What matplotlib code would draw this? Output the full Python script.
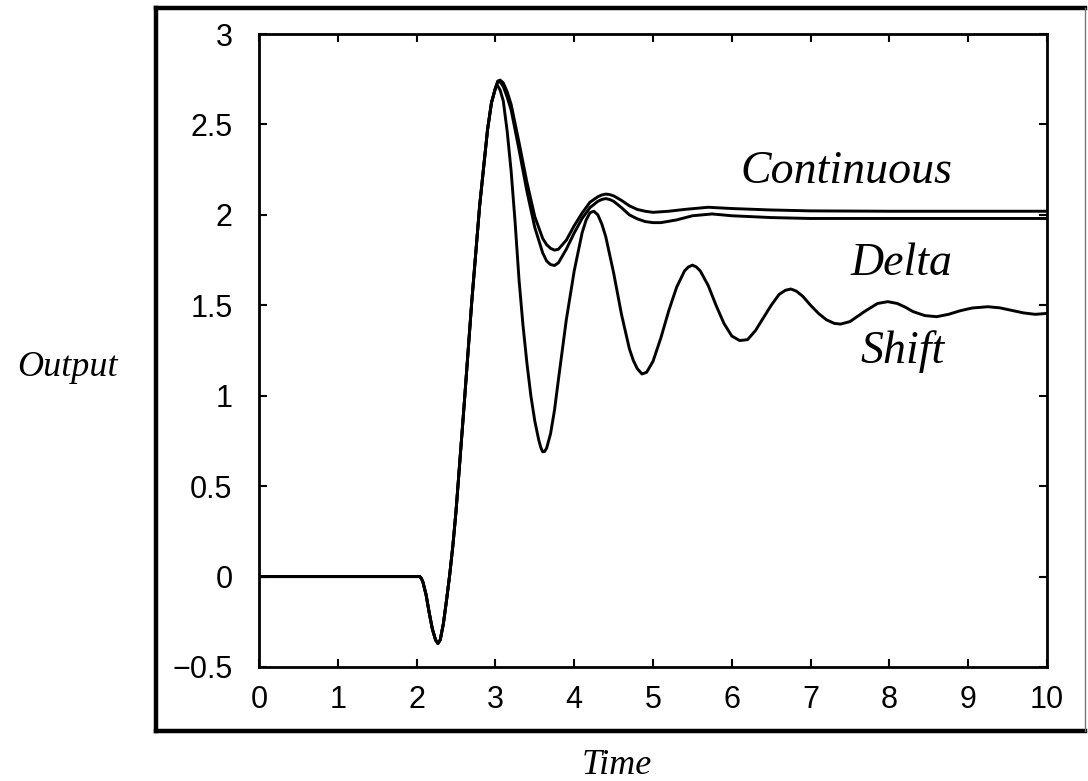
import matplotlib
matplotlib.use("Agg")
import matplotlib.pyplot as plt
from matplotlib.lines import Line2D
import warnings
warnings.filterwarnings("ignore")

# ---------------- data ----------------
common_t = [0.0, 2.00, 2.04, 2.06, 2.08, 2.12, 2.16, 2.20, 2.24, 2.27, 2.30, 2.34, 2.38,
            2.42, 2.46, 2.50, 2.60, 2.70, 2.80, 2.90, 2.95, 3.00]
common_v = [0.0, 0.0, 0.0, -0.01, -0.03, -0.10, -0.20, -0.29, -0.35, -0.37, -0.35, -0.26, -0.13,
            0.01, 0.17, 0.36, 0.93, 1.52, 2.05, 2.47, 2.62, 2.70]

cont_t = [3.03, 3.06, 3.10, 3.15, 3.20, 3.30, 3.40, 3.50, 3.60, 3.65, 3.70, 3.75, 3.80,
          3.90, 4.00, 4.10, 4.20, 4.30, 4.35, 4.40, 4.45, 4.50, 4.60, 4.70, 4.80, 4.90,
          5.00, 5.20, 5.40, 5.70, 6.00, 6.50, 7.00, 8.00, 9.00, 10.00]
cont_v = [2.74, 2.745, 2.73, 2.68, 2.61, 2.40, 2.18, 1.99, 1.87, 1.835, 1.815, 1.805, 1.81,
          1.86, 1.94, 2.01, 2.07, 2.10, 2.11, 2.115, 2.112, 2.105, 2.08, 2.05, 2.03, 2.02,
          2.014, 2.02, 2.03, 2.042, 2.035, 2.027, 2.022, 2.02, 2.02, 2.02]

delta_t = [3.03, 3.06, 3.10, 3.15, 3.20, 3.30, 3.40, 3.50, 3.60, 3.65, 3.70, 3.75, 3.80,
           3.90, 4.00, 4.10, 4.20, 4.30, 4.35, 4.40, 4.45, 4.50, 4.60, 4.70, 4.80, 4.90,
           5.00, 5.10, 5.30, 5.50, 5.75, 6.00, 6.50, 7.00, 8.00, 10.00]
delta_v = [2.735, 2.735, 2.71, 2.65, 2.58, 2.36, 2.13, 1.93, 1.79, 1.745, 1.725, 1.72, 1.735,
           1.81, 1.90, 1.98, 2.04, 2.075, 2.085, 2.09, 2.085, 2.075, 2.04, 2.00, 1.978, 1.963,
           1.957, 1.957, 1.972, 1.995, 2.005, 1.995, 1.985, 1.98, 1.98, 1.98]

shift_t = [3.02, 3.06, 3.10, 3.15, 3.20, 3.25, 3.30, 3.35, 3.40, 3.45, 3.50, 3.55, 3.575,
           3.60, 3.625, 3.65, 3.70, 3.75, 3.80, 3.90, 4.00, 4.10, 4.15, 4.20, 4.25, 4.30,
           4.35, 4.40, 4.50, 4.60, 4.70, 4.75, 4.80, 4.86, 4.92, 5.00, 5.10, 5.20, 5.30,
           5.40, 5.45, 5.50, 5.55, 5.60, 5.70, 5.80, 5.90, 6.00, 6.10, 6.20, 6.30, 6.40,
           6.50, 6.60, 6.68, 6.75, 6.82, 6.90, 7.00, 7.10, 7.20, 7.30, 7.38, 7.50, 7.60,
           7.70, 7.85, 7.98, 8.10, 8.20, 8.30, 8.45, 8.60, 8.75, 8.90, 9.05, 9.25, 9.40,
           9.55, 9.70, 9.85, 10.00]
shift_v = [2.72, 2.69, 2.63, 2.46, 2.24, 1.96, 1.64, 1.39, 1.18, 1.00, 0.86, 0.755, 0.715,
           0.69, 0.692, 0.71, 0.79, 0.92, 1.09, 1.42, 1.69, 1.90, 1.97, 2.012, 2.02, 2.00,
           1.95, 1.88, 1.68, 1.45, 1.26, 1.195, 1.15, 1.12, 1.13, 1.19, 1.32, 1.47, 1.60,
           1.69, 1.712, 1.722, 1.712, 1.69, 1.61, 1.50, 1.40, 1.33, 1.305, 1.31, 1.36, 1.43,
           1.50, 1.56, 1.583, 1.59, 1.578, 1.55, 1.50, 1.455, 1.42, 1.40, 1.396, 1.41, 1.44,
           1.47, 1.51, 1.52, 1.51, 1.49, 1.465, 1.443, 1.437, 1.45, 1.47, 1.485, 1.492, 1.486,
           1.472, 1.458, 1.45, 1.455]

x_ticks = [0, 1, 2, 3, 4, 5, 6, 7, 8, 9, 10]
y_ticks = [-0.5, 0, 0.5, 1, 1.5, 2, 2.5, 3]
y_tick_labels = ["\u22120.5", "0", "0.5", "1", "1.5", "2", "2.5", "3"]
curve_labels = ["Continuous", "Delta", "Shift"]

# ---------------- figure ----------------
W, H = 1088, 781
fig = plt.figure(figsize=(W / 100, H / 100), dpi=100)
fig.patch.set_facecolor("white")

L, R, T, B = 259, 1047, 34, 667
ax = fig.add_axes([L / W, 1 - B / H, (R - L) / W, (B - T) / H])

lw = 2.1
for tt_extra, vv_extra in [(cont_t, cont_v), (delta_t, delta_v), (shift_t, shift_v)]:
    ax.plot(common_t + tt_extra, common_v + vv_extra, color="black", lw=lw,
            solid_joinstyle="round", solid_capstyle="round")

ax.set_xlim(0, 10)
ax.set_ylim(-0.5, 3)
ax.set_xticks(x_ticks)
ax.set_yticks(y_ticks)
ax.set_yticklabels(y_tick_labels)

tick_font = ["Liberation Sans Narrow", "Liberation Sans", "DejaVu Sans"]
for lab in ax.get_xticklabels() + ax.get_yticklabels():
    lab.set_fontfamily(tick_font)
    lab.set_fontsize(22)

ax.tick_params(axis="both", direction="in", length=6, width=1.5,
               top=True, right=True, colors="black")
ax.tick_params(axis="y", pad=19)
ax.tick_params(axis="x", pad=13)
for s in ax.spines.values():
    s.set_linewidth(2.0)
    s.set_color("black")

serif = ["Liberation Serif", "DejaVu Serif"]
ax.text(0.746, 0.765, curve_labels[0], transform=ax.transAxes, ha="center",
        va="baseline", fontsize=33, style="italic", family=serif)
ax.text(0.815, 0.619, curve_labels[1], transform=ax.transAxes, ha="center",
        va="baseline", fontsize=33, style="italic", family=serif)
ax.text(0.817, 0.480, curve_labels[2], transform=ax.transAxes, ha="center",
        va="baseline", fontsize=33, style="italic", family=serif)

fig.text(67.5 / W, 1 - 376 / H, "Output", ha="center", va="baseline",
         fontsize=26, style="italic", family=serif)
fig.text(617 / W, 1 - 774 / H, "Time", ha="center", va="baseline",
         fontsize=26, style="italic", family=serif)

# outer frame
bl, bt, br, bb = 156, 8, 1085, 731
def fx(p): return p / W
def fy(p): return 1 - p / H
fig.add_artist(Line2D([fx(bl), fx(bl)], [fy(bt), fy(bb)], color="black", lw=3.2,
                      transform=fig.transFigure, solid_capstyle="projecting"))
fig.add_artist(Line2D([fx(bl), fx(br)], [fy(bt), fy(bt)], color="black", lw=3.2,
                      transform=fig.transFigure, solid_capstyle="projecting"))
fig.add_artist(Line2D([fx(bl), fx(br)], [fy(bb), fy(bb)], color="black", lw=3.2,
                      transform=fig.transFigure, solid_capstyle="projecting"))
fig.add_artist(Line2D([fx(br), fx(br)], [fy(bt), fy(bb)], color="#777777", lw=1.0,
                      transform=fig.transFigure))

fig.savefig("out.png", dpi=100, facecolor="white")
